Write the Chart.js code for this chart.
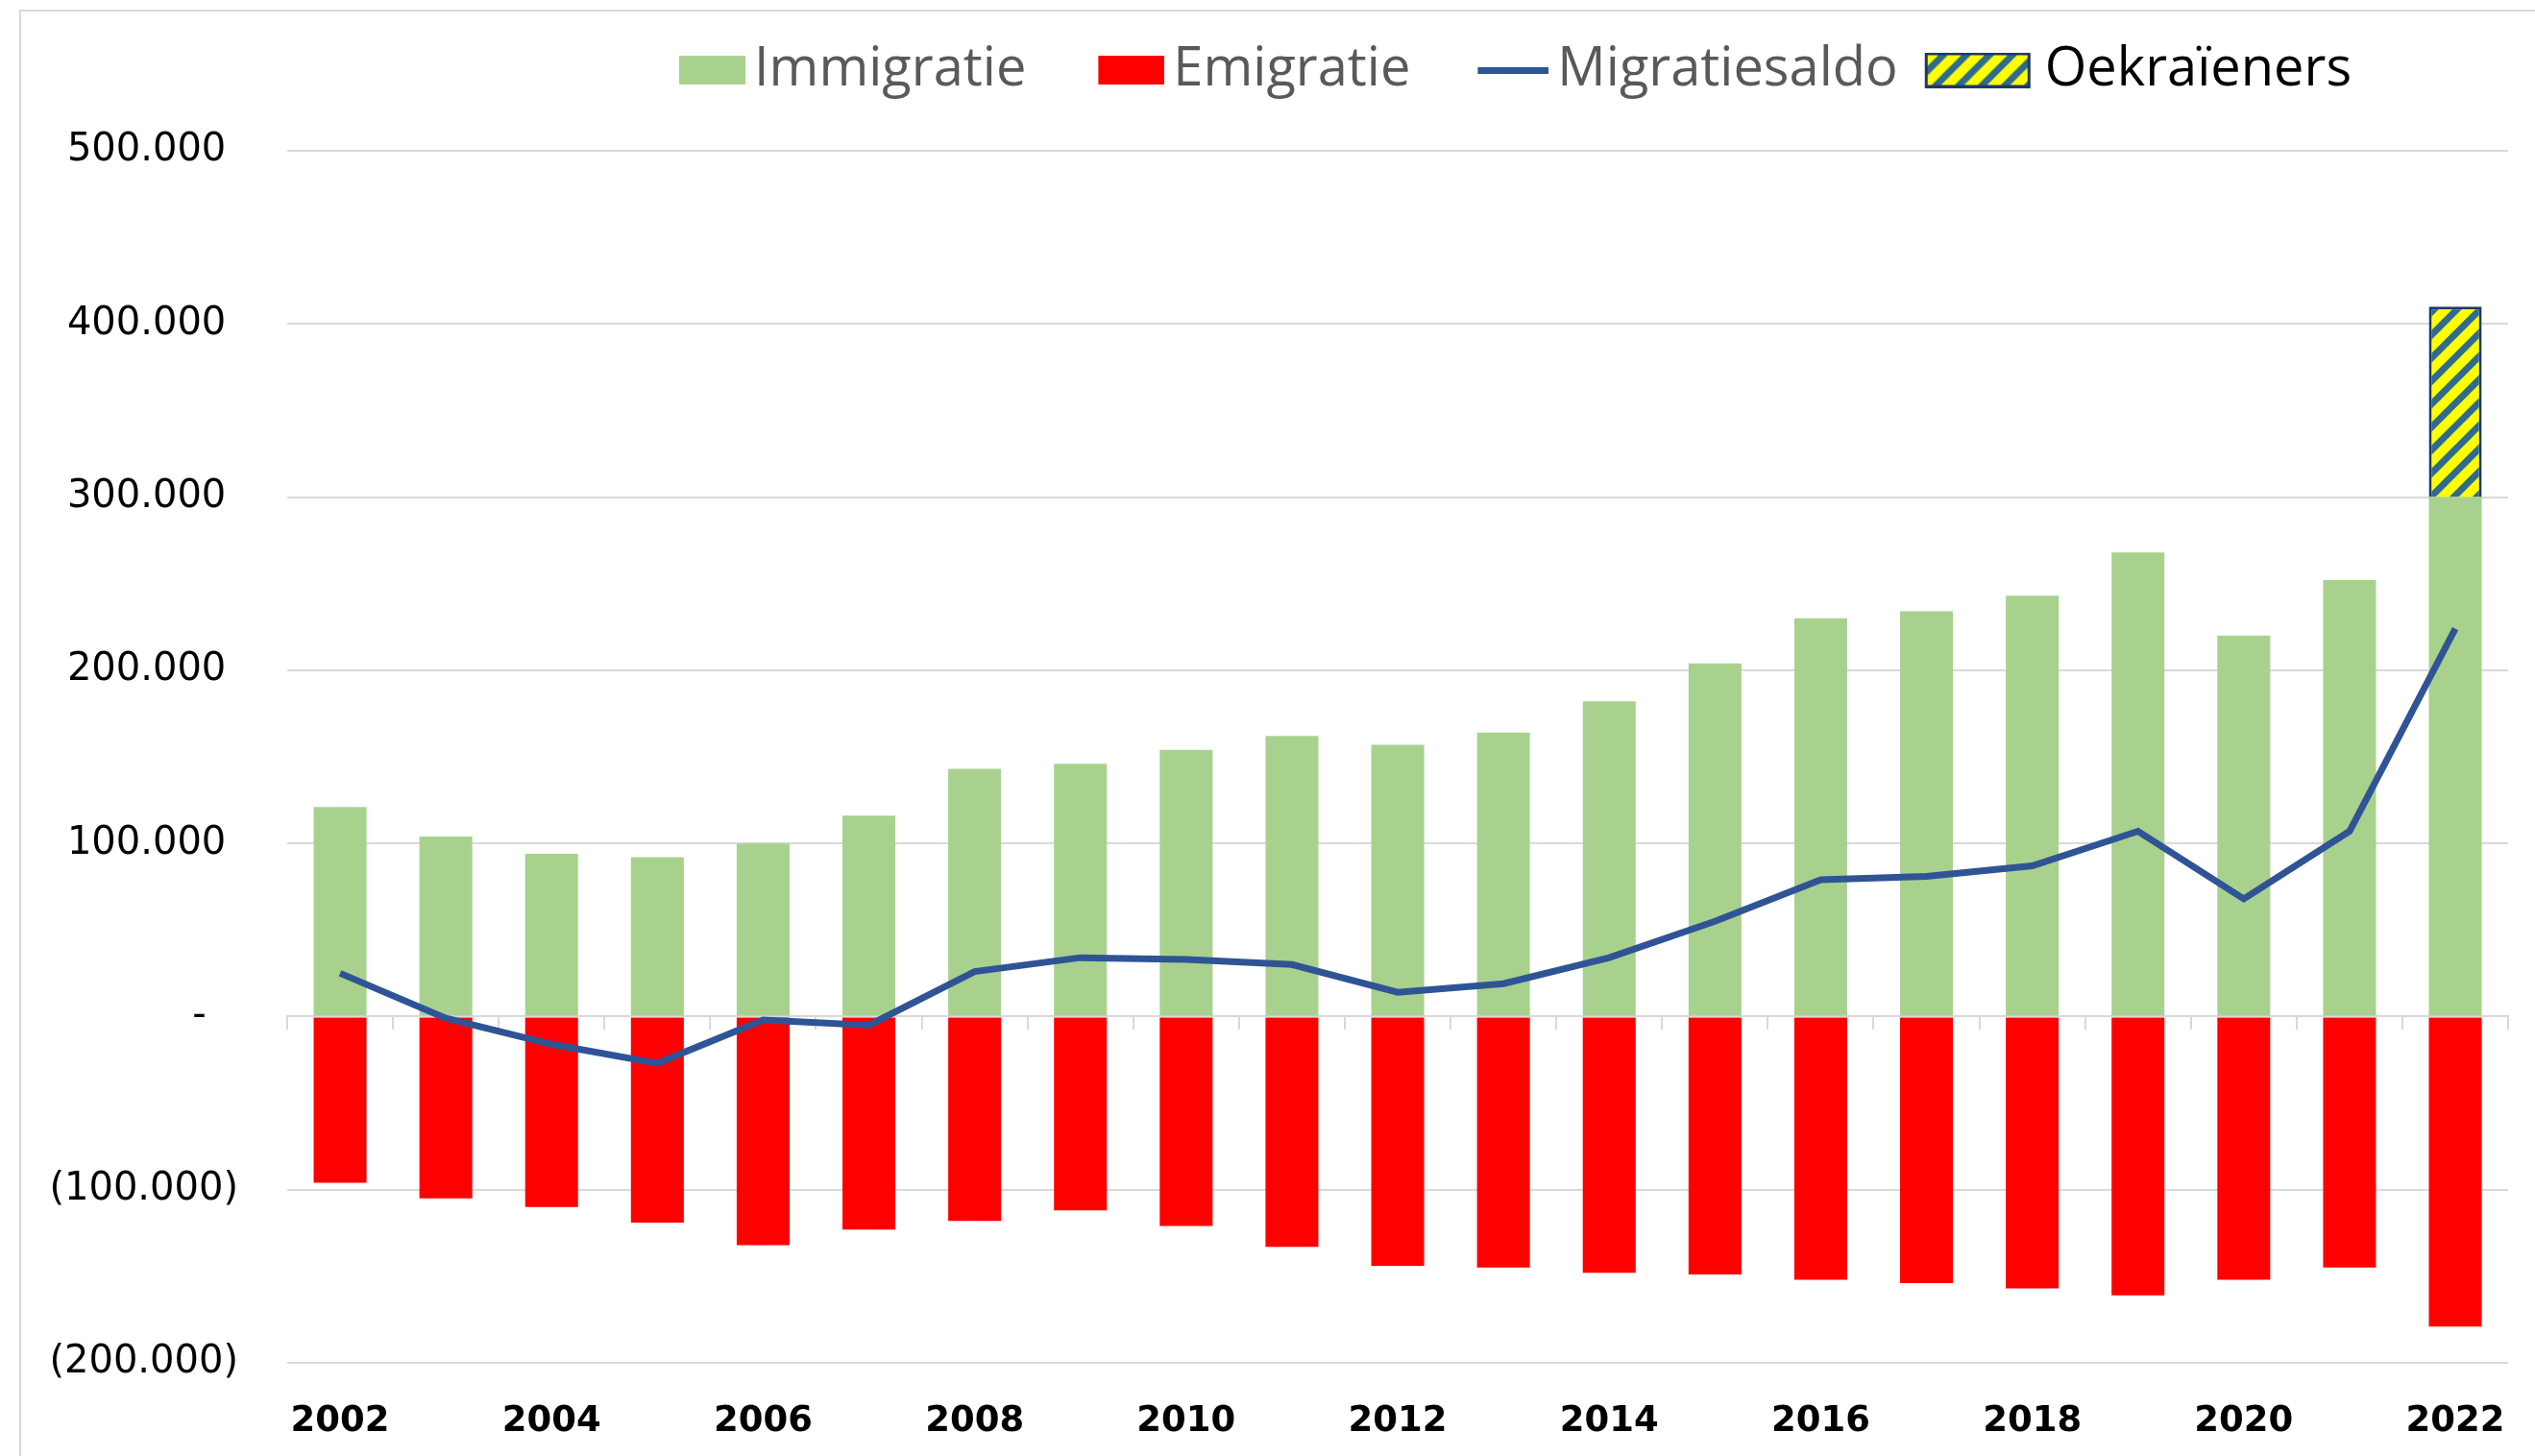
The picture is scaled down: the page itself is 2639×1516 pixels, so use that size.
<!DOCTYPE html>
<html>
<head>
<meta charset="utf-8">
<script src="https://cdn.jsdelivr.net/npm/chart.js@4.4.1/dist/chart.umd.min.js"></script>
<style>
  html, body { margin: 0; padding: 0; background: #fff; }
  #wrap { position: relative; width: 2639px; height: 1516px; }
  #frame { position: absolute; left: 20px; top: 10px; right: 0; bottom: 0;
           border-left: 2px solid #d9d9d9; border-top: 2px solid #d9d9d9; }
  #migChart { position: absolute; left: 0; top: 0; }
</style>
</head>
<body>
<div id="wrap">
  <div id="frame"></div>
  <canvas id="migChart" width="2639" height="1516"></canvas>
</div>
<script>
// jaren
const years = ['2002','2003','2004','2005','2006','2007','2008','2009','2010','2011','2012',
               '2013','2014','2015','2016','2017','2018','2019','2020','2021','2022'];
// aantallen per jaar
const immigratie = [121000, 104000, 94000, 92000, 100000, 116000, 143000, 146000, 154000, 162000, 157000,
                    164000, 182000, 204000, 230000, 234000, 243000, 268000, 220000, 252000, 300000];
const emigratie = [-96000, -105000, -110000, -119000, -132000, -123000, -118000, -112000, -121000, -133000, -144000,
                   -145000, -148000, -149000, -152000, -154000, -157000, -161000, -152000, -145000, -179000];
const migratiesaldo = [25000, -1000, -16000, -27000, -2000, -5000, 26000, 34000, 33000, 30000, 14000,
                       19000, 34000, 55000, 79000, 81000, 87000, 107000, 68000, 107000, 224000];
const oekraieners = [null, null, null, null, null, null, null, null, null, null, null,
                     null, null, null, null, null, null, null, null, null, 110000];
const yTicks = [500000, 400000, 300000, 200000, 100000, 0, -100000, -200000];

const GREEN = '#a9d18e';
const RED = '#ff0000';
const BLUE = '#2f5496';
const STRIPE = '#2e6b8f';

// gele arcering met blauwe strepen
function hatchTile() {
  const c = document.createElement('canvas');
  c.width = 24; c.height = 24;
  const g = c.getContext('2d');
  g.fillStyle = '#ffff00';
  g.fillRect(0, 0, 24, 24);
  g.strokeStyle = STRIPE;
  g.lineWidth = 7;
  g.beginPath();
  g.moveTo(-6, 30); g.lineTo(30, -6);
  g.moveTo(-6, 6); g.lineTo(6, -6);
  g.moveTo(18, 30); g.lineTo(30, 18);
  g.stroke();
  return c;
}

const ctx = document.getElementById('migChart').getContext('2d');
const hatch = ctx.createPattern(hatchTile(), 'repeat');

// legend-icoontjes
function icon(h, draw) {
  const c = document.createElement('canvas');
  c.width = 118; c.height = h;
  draw(c.getContext('2d'));
  return c;
}
const legendIcons = [
  icon(30, g => { g.fillStyle = GREEN; g.fillRect(49, 0, 69, 30); }),
  icon(30, g => { g.fillStyle = RED; g.fillRect(49, 0, 69, 30); }),
  icon(8, g => { g.fillStyle = BLUE; g.fillRect(44, 1, 74, 7); }),
  icon(37, g => {
    g.fillStyle = g.createPattern(hatchTile(), 'repeat');
    g.fillRect(2, 0, 110, 37);
    g.strokeStyle = '#1f3864'; g.lineWidth = 3;
    g.strokeRect(3.5, 1.5, 107, 34);
  })
];

function fmt(v) {
  if (v === 0) return '-  \u2009';
  const s = Math.abs(v / 1000) + '.000';
  return v < 0 ? '(' + s + ')' : s + ' ';
}

const legendShift = {
  id: 'legendShift',
  afterLayout(chart) {
    const l = chart.legend;
    l.left += 253; l.right += 253;
    l.top -= 46; l.bottom -= 46;
  }
};

const migChart = new Chart(ctx, {
  type: 'bar',
  data: {
    labels: years,
    datasets: [
      { label: 'Immigratie', data: immigratie, backgroundColor: GREEN, stack: 'm', order: 2 },
      { label: 'Emigratie', data: emigratie, backgroundColor: RED, stack: 'm', order: 2 },
      { label: 'Migratiesaldo', type: 'line', data: migratiesaldo, borderColor: BLUE, backgroundColor: BLUE,
        borderWidth: 7, pointRadius: 0, tension: 0, stack: 'saldo', order: 0 },
      { label: 'Oekraïeners', data: oekraieners, backgroundColor: hatch, borderColor: '#1f3864',
        borderWidth: 3, stack: 'm', order: 2 }
    ]
  },
  options: {
    responsive: false,
    animation: false,
    layout: { padding: { top: 46, right: 20, bottom: 0, left: 0 } },
    datasets: { bar: { categoryPercentage: 0.5, barPercentage: 1 } },
    scales: {
      x: {
        stacked: true,
        grid: { display: false },
        border: { display: false },
        ticks: {
          autoSkip: false, maxRotation: 0, padding: 31, color: '#000',
          font: { family: 'DejaVu Sans', size: 37, weight: 'bold' },
          callback: (v, i) => (i % 2 === 0 ? years[i] : '')
        },
        afterFit: s => { s.height = 97; }
      },
      x2: {
        type: 'category',
        position: { y: 0 },
        offset: true,
        grid: { drawOnChartArea: false, offset: true, color: '#d9d9d9', lineWidth: 2, tickLength: 13 },
        border: { display: true, color: '#d9d9d9', width: 2 },
        ticks: { display: false }
      },
      y: {
        stacked: true,
        min: -200000,
        max: 500000,
        afterBuildTicks: s => { s.ticks = yTicks.map(v => ({ value: v })); },
        grid: { color: '#d9d9d9', lineWidth: 2, drawTicks: false },
        border: { display: false },
        ticks: {
          padding: 51, color: '#000',
          font: { family: 'DejaVu Sans', size: 40 },
          callback: v => fmt(v)
        },
        afterFit: s => { s.width = 299; }
      }
    },
    plugins: {
      tooltip: { enabled: false },
      legend: {
        position: 'top',
        align: 'center',
        labels: {
          usePointStyle: true,
          pointStyleWidth: 80,
          padding: 45,
          color: '#595959',
          font: { family: 'Open Sans', size: 56 },
          sort: (a, b) => a.datasetIndex - b.datasetIndex,
          generateLabels(chart) {
            const items = Chart.defaults.plugins.legend.labels.generateLabels(chart);
            items.forEach(it => {
              it.pointStyle = legendIcons[it.datasetIndex];
              it.fontColor = it.datasetIndex === 3 ? '#000' : '#595959';
            });
            return items;
          }
        }
      }
    }
  },
  plugins: [legendShift]
});
</script>
</body>
</html>
